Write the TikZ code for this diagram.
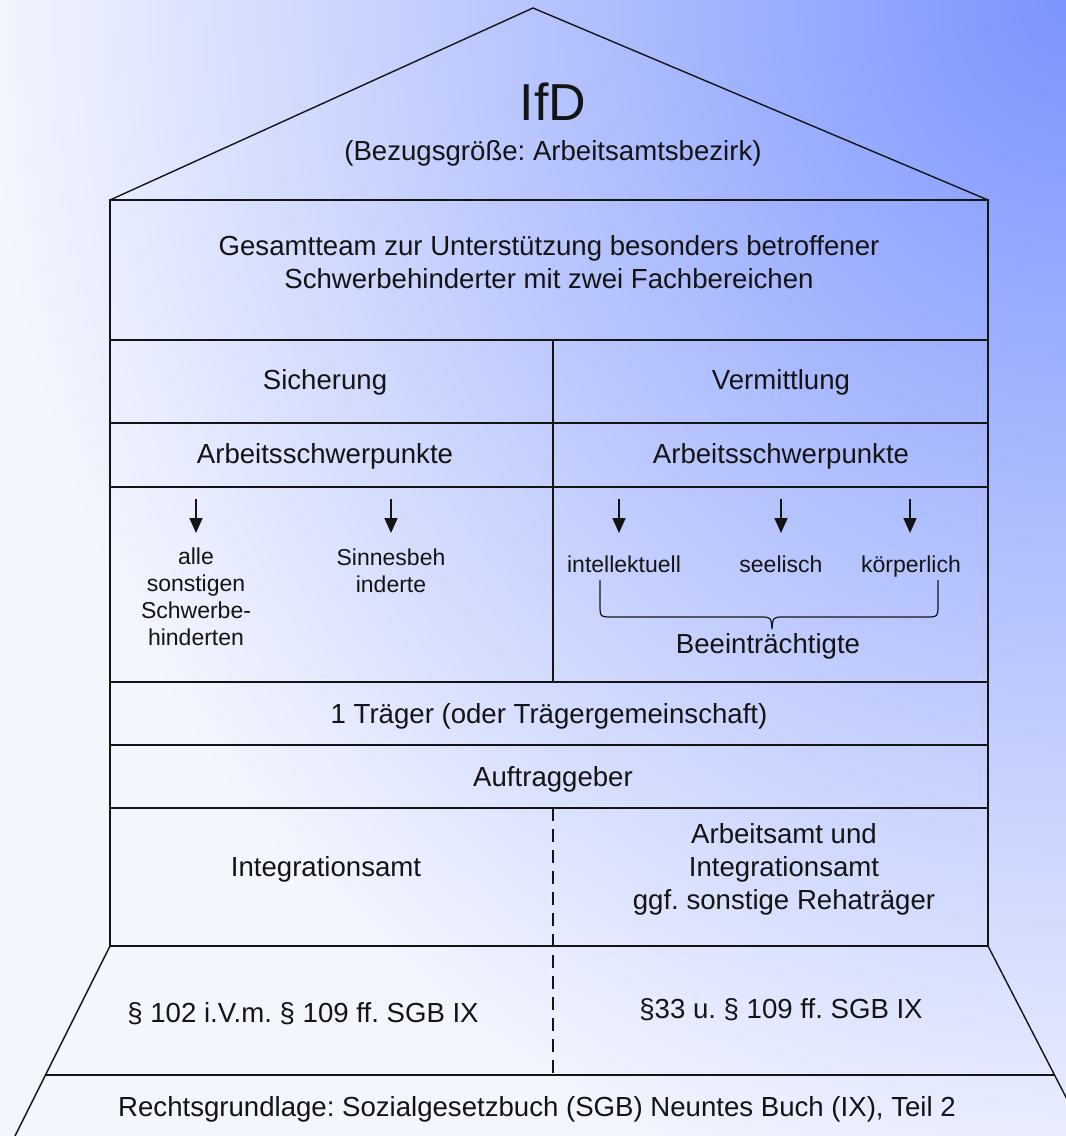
\documentclass[tikz,border=0pt]{standalone}
\usepackage{fontspec}
\setmainfont[Ligatures=NoCommon]{Liberation Sans}
\usetikzlibrary{arrows.meta}
\definecolor{bgin}{RGB}{123,148,254}
\definecolor{bgout}{RGB}{244,246,254}
\definecolor{ink}{RGB}{20,20,20}
\pgfdeclareradialshading{bgshade}{\pgfpoint{0bp}{0bp}}{color(0bp)=(bgin); color(25bp)=(bgout); color(50bp)=(bgout)}
\begin{document}
\frenchspacing
\begin{tikzpicture}[x=1pt,y=-1pt,
  frame/.style={draw=ink, line width=1.8pt},
  roof/.style={draw=ink, line width=1.4pt},
  lbl/.style={font=\fontsize{27.6}{33}\selectfont, align=center, inner sep=0pt, text=ink},
  sml/.style={font=\fontsize{23}{27}\selectfont, align=center, inner sep=0pt, text=ink},
  big/.style={font=\fontsize{52}{60}\selectfont, inner sep=0pt, text=ink},
  pointer/.style={draw=ink, line width=1.7pt, -{Triangle[width=13pt,length=15pt]}},
  dashline/.style={draw=ink, line width=1.4pt, dash pattern=on 13pt off 8pt}]
\useasboundingbox (0,0) rectangle (1066,1136);
\begin{scope}
\clip (0,0) rectangle (1066,1136);
\fill[bgout] (0,0) rectangle (1066,1136);
\shade[shading=bgshade] (1066,0) ellipse [x radius=1080pt, y radius=1250pt];
% roof
\draw[roof] (110,200) -- (533,8) -- (988,200);
% main frame
\draw[frame] (110,200) rectangle (988,946);
\foreach \yy in {340,423,487,682,745,808} \draw[frame] (110,\yy) -- (988,\yy);
\draw[frame] (553,340) -- (553,682);
% base trapezoid
\draw[roof] (110,946) -- (15,1136);
\draw[roof] (988,946) -- (1086,1136);
\draw[frame] (46,1075) -- (1054,1075);
\draw[dashline] (553,808) -- (553,1075);
\end{scope}

% texts
\node[big] (ifd) at (553,102) {IfD};
\node[lbl] (bez) at (553,153) {(Bezugsgröße: Arbeitsamtsbezirk)};
\node[lbl] (team) at (549,262) {Gesamtteam zur Unterstützung besonders betroffener\\Schwerbehinderter mit zwei Fachbereichen};
\node[lbl] (sich) at (325,382) {Sicherung};
\node[lbl] (verm) at (781,382) {Vermittlung};
\node[lbl] (asl) at (325,456) {Arbeitsschwerpunkte};
\node[lbl] (asr) at (781,456) {Arbeitsschwerpunkte};

\node[sml] (alle) at (196,597) {alle\\sonstigen\\Schwerbe-\\hinderten};
\node[sml] (sinn) at (391,571) {Sinnesbeh\\inderte};
\node[sml, anchor=base] (intel) at (624,572) {intellektuell};
\node[sml, anchor=base] (seel) at (781,572) {seelisch};
\node[sml, anchor=base] (koerp) at (911,572) {körperlich};
\node[lbl] (beein) at (768,646) {Beeinträchtigte};

\node[lbl] (traeger) at (549,716) {1 Träger (oder Trägergemeinschaft)};
\node[lbl] (auftr) at (553,779) {Auftraggeber};
\node[lbl] (intamt) at (326,869) {Integrationsamt};
\node[lbl] (arbamt) at (784,869) {Arbeitsamt und\\Integrationsamt\\ggf. sonstige Rehaträger};
\node[lbl] (p102) at (303,1014) {§ 102 i.V.m. § 109 ff. SGB IX};
\node[lbl] (p33) at (781,1010) {§33 u. § 109 ff. SGB IX};
\node[lbl] (recht) at (537,1109) {Rechtsgrundlage: Sozialgesetzbuch (SGB) Neuntes Buch (IX), Teil 2};

% arrows
\foreach \n/\xx in {a1/196,a2/391,a3/619,a4/781,a5/910}{
  \coordinate (\n s) at (\xx,499);
  \coordinate (\n e) at (\xx,533);
  \draw[pointer] (\n s) -- (\n e);
}
% brace
\draw[ink, line width=1.2pt] (600,580) -- (600,604) .. controls (600,617) .. (613,617) -- (760,617)
  .. controls (771,617) .. (772,629) .. controls (773,617) .. (784,617) -- (925,617)
  .. controls (938,617) .. (938,604) -- (938,580);
\end{tikzpicture}
\end{document}
